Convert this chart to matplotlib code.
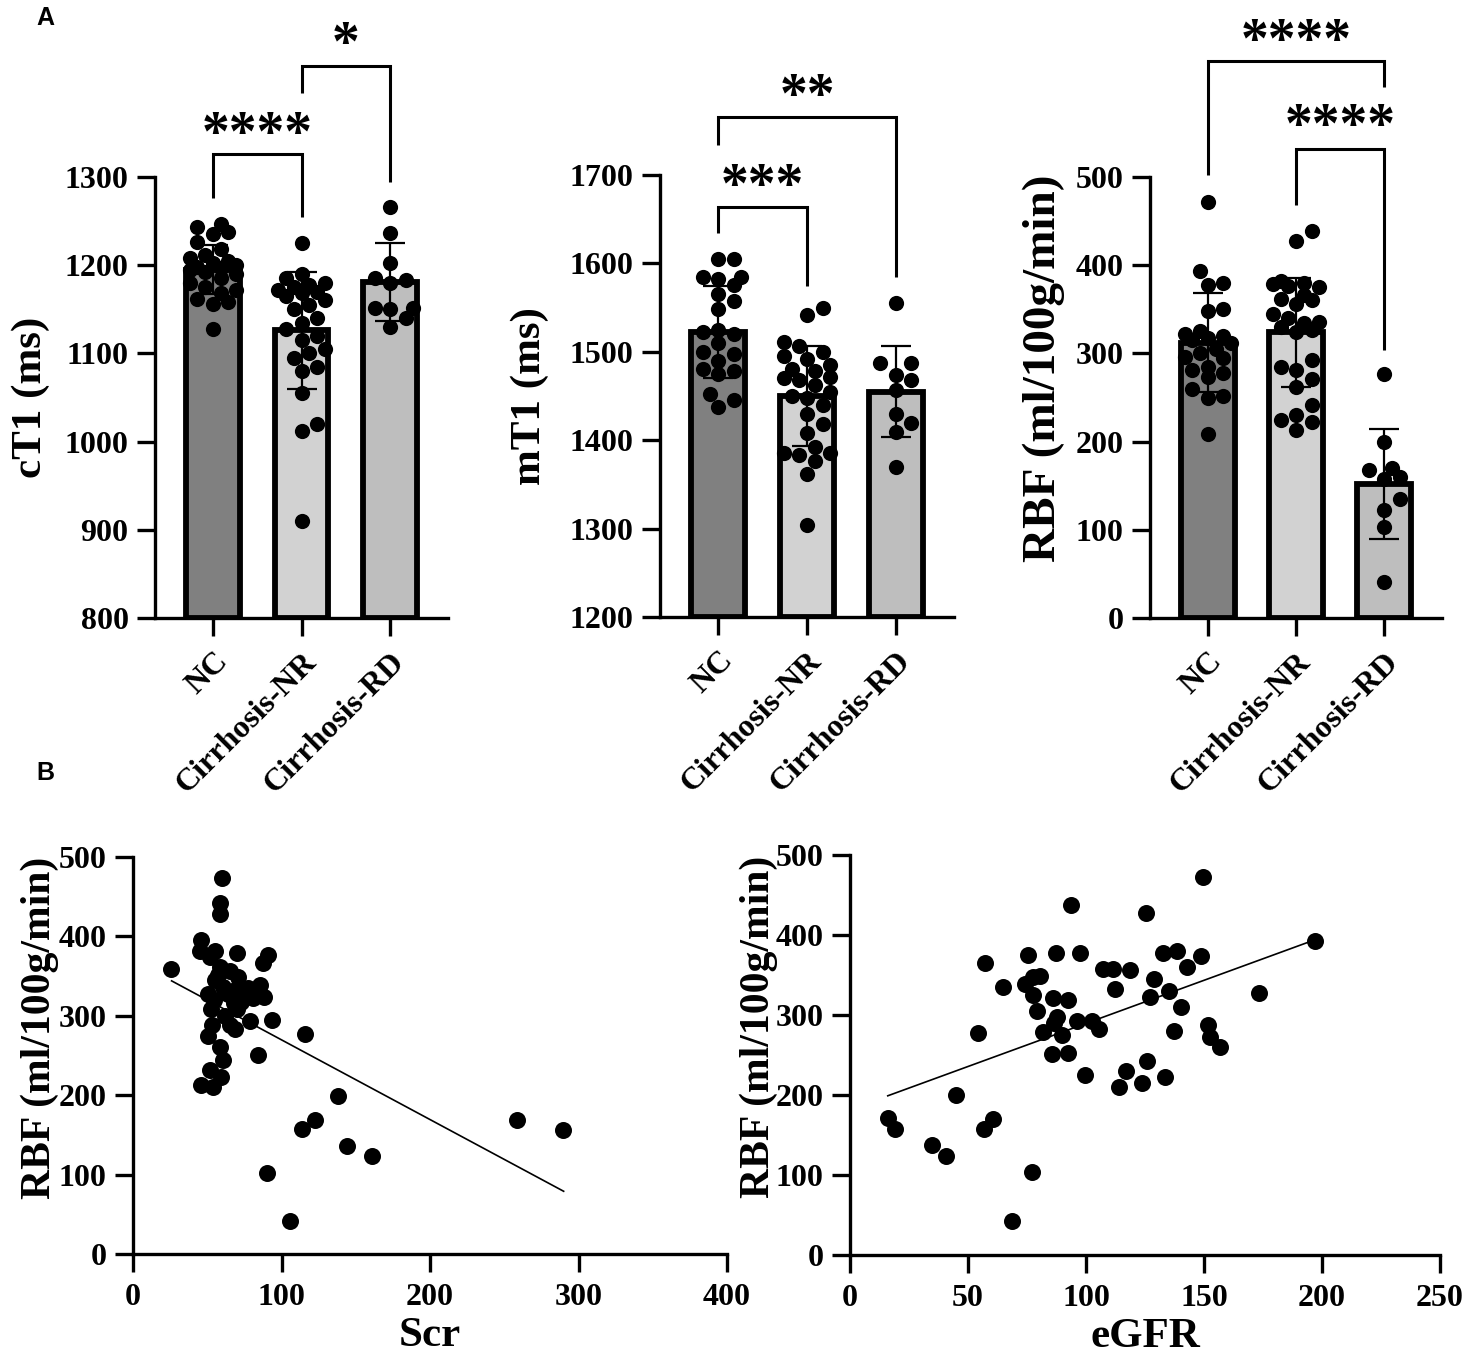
import matplotlib
matplotlib.use("Agg")
import matplotlib.pyplot as plt
import numpy as np

SERIF = ["Liberation Serif", "DejaVu Serif"]
plt.rcParams["font.family"] = SERIF
plt.rcParams["font.weight"] = "bold"

# ---------------- data ----------------
groups = ["NC", "Cirrhosis-NR", "Cirrhosis-RD"]
bar_colors = ["#808080", "#d2d2d2", "#bebebe"]

ct1_nc = [1247, 1243, 1238, 1235, 1226, 1218, 1212, 1208, 1205, 1203, 1200, 1198, 1197,
          1195, 1192, 1190, 1185, 1180, 1175, 1172, 1168, 1162, 1158, 1156, 1128]
ct1_nr = [1225, 1190, 1185, 1180, 1178, 1175, 1172, 1170, 1168, 1165, 1160, 1155, 1150, 1140,
          1135, 1128, 1120, 1115, 1105, 1100, 1095, 1085, 1080, 1055, 1020, 1012, 910]
ct1_rd = [1266, 1237, 1203, 1185, 1183, 1180, 1152, 1150, 1152, 1140, 1130]
ct1_mean = [1195, 1126, 1181]
ct1_sd = [28, 66, 44]

mt1_nc = [1605, 1605, 1585, 1585, 1582, 1575, 1565, 1558, 1548, 1525, 1522, 1520, 1510,
          1500, 1497, 1490, 1480, 1478, 1475, 1452, 1445, 1437]
mt1_nr = [1549, 1542, 1511, 1507, 1500, 1495, 1492, 1485, 1480, 1478, 1472, 1470, 1468, 1462,
          1455, 1450, 1448, 1440, 1430, 1418, 1408, 1392, 1386, 1385, 1383, 1377, 1362, 1304]
mt1_rd = [1555, 1487, 1487, 1474, 1468, 1457, 1430, 1419, 1409, 1370]
mt1_mean = [1522, 1450, 1455]
mt1_sd = [52, 56, 51]

rbf_nc = [472, 393, 380, 378, 350, 348, 325, 322, 320, 318, 315, 312, 305, 300, 296, 295,
          285, 281, 278, 273, 260, 252, 250, 209]
rbf_nr = [439, 428, 382, 380, 379, 376, 375, 366, 362, 360, 356, 345, 340, 336, 335, 330,
          326, 324, 292, 285, 281, 271, 262, 241, 230, 224, 222, 213]
rbf_rd = [277, 200, 170, 168, 160, 158, 135, 122, 103, 41]
rbf_mean = [312, 324, 152]
rbf_sd = [56, 62, 62]

ct1_yticks = [800, 900, 1000, 1100, 1200, 1300]
mt1_yticks = [1200, 1300, 1400, 1500, 1600, 1700]
rbf_yticks = [0, 100, 200, 300, 400, 500]

# significance brackets: (group i, group j, bracket y, leg-i bottom, leg-j bottom, label, label y)
ct1_sig = [(0, 1, 1326, 1276, 1255, "****", 1359),
           (1, 2, 1426, 1395, 1294, "*", 1461)]
mt1_sig = [(0, 1, 1664, 1634, 1574, "***", 1698),
           (0, 2, 1766, 1734, 1585, "**", 1800)]
rbf_sig = [(0, 2, 632, 502, 602, "****", 665),
           (1, 2, 532, 468, 304, "****", 568)]

# correlation: Scr vs RBF
scr_x = [59.7, 58.6, 58.6, 45.8, 45.0, 55.2, 69.8, 51.6, 91.1, 87.3, 25.6, 58.6, 65.3, 71.0,
         55.2, 85.5, 77.6, 60.8, 68.6, 50.3, 88.2, 80.8, 54.6, 67.9, 52.5, 69.8, 93.4, 78.5,
         65.1, 53.2, 69.0, 50.3, 115.8, 58.6, 84.4, 60.8, 51.6, 59.5, 46.0, 53.9, 138.3,
         122.6, 113.6, 143.9, 161.2, 90.0, 105.7, 258.3, 289.4, 62.0, 73.0, 64.0, 57.0]
scr_y = [474, 442, 428, 395, 381, 382, 379, 374, 377, 366, 359, 361, 356, 349,
         345, 339, 335, 336, 332, 328, 324, 322, 320, 316, 309, 308, 295, 294,
         288, 288, 284, 274, 277, 261, 251, 244, 232, 223, 213, 210, 199,
         169, 157, 136, 123, 102, 41, 169, 156, 300, 318, 327, 352]
scr_fit_x = [26, 290]
scr_fit_y = [344, 79]

# correlation: eGFR vs RBF
egfr_x = [149.4, 93.6, 125.4, 75.3, 87.3, 97.5, 132.8, 138.7, 148.6, 57.2, 142.7, 107.3, 111.3,
          118.6, 80.5, 77.7, 128.8, 74.2, 65.0, 112.3, 135.2, 77.7, 85.9, 92.2, 127.1, 173.4,
          79.3, 140.3, 87.6, 96.0, 102.7, 105.6, 86.4, 89.7, 81.6, 54.1, 137.4, 151.8, 152.5,
          156.8, 85.6, 92.4, 125.7, 116.9, 99.6, 133.5, 114.1, 123.6, 44.9, 16.2, 19.1, 60.5,
          56.9, 34.6, 40.7, 77.0, 68.5, 197.0]
egfr_y = [472, 438, 427, 375, 377, 377, 378, 380, 374, 365, 360, 357, 357,
          356, 349, 348, 345, 339, 335, 333, 330, 325, 321, 319, 322, 327,
          305, 310, 298, 292, 293, 283, 290, 275, 279, 277, 280, 288, 273,
          260, 251, 252, 243, 230, 225, 223, 210, 215, 200, 171, 157, 170,
          158, 138, 124, 104, 43, 392]
egfr_fit_x = [16, 197]
egfr_fit_y = [199, 394]

scr_xticks = [0, 100, 200, 300, 400]
egfr_xticks = [0, 50, 100, 150, 200, 250]
scatter_yticks = [0, 100, 200, 300, 400, 500]

# ---------------- figure ----------------
W, H = 1476, 1366
fig = plt.figure(figsize=(W / 100, H / 100), dpi=100)


def ax_px(l, t, r, b):
    return fig.add_axes([l / W, 1 - b / H, (r - l) / W, (b - t) / H])


SPINE_LW = 2.4
TICK_FS = 23


def style(ax):
    for s in ["top", "right"]:
        ax.spines[s].set_visible(False)
    for s in ["left", "bottom"]:
        ax.spines[s].set_linewidth(SPINE_LW)
    ax.tick_params(direction="out", length=13, width=SPINE_LW, labelsize=TICK_FS, pad=6)
    for lab in ax.get_xticklabels() + ax.get_yticklabels():
        lab.set_fontweight("bold")
        lab.set_family(SERIF)


def swarm(ax, xc, vals, diam=15.5, maxw=27):
    tr = ax.transData
    p0 = tr.transform((0, 0))
    px_per_x = tr.transform((1, 0))[0] - p0[0]
    ys = np.array([tr.transform((0, v))[1] for v in vals])
    order = np.argsort(ys)
    step = diam * 0.5
    cands = [0.0]
    k = 1
    while k * step <= maxw:
        cands += [k * step, -k * step]
        k += 1
    placed = []
    offs = np.zeros(len(vals))
    for i in order:
        y = ys[i]
        best, bestd, bestc = None, -1, 0.0
        for c in cands:
            if placed:
                d = min(np.hypot(c - px, y - py) for px, py in placed)
            else:
                d = 1e9
            if d >= diam * 0.92:
                best = c
                break
            if d > bestd:
                bestd, bestc = d, c
        if best is None:
            best = bestc
        placed.append((best, y))
        offs[i] = best
    return xc + offs / px_per_x


def bar_panel(rect, point_sets, means, sds, yticks, ylabel, sig, ylab_x, ylab_y, ylab_fs):
    ax = ax_px(*rect)
    x = np.arange(len(groups))
    ax.set_xlim(-0.655, 2.655)
    ax.set_ylim(yticks[0], yticks[-1])
    base = yticks[0]
    ax.bar(x, np.array(means) - base, bottom=base, width=0.61, color=bar_colors,
           edgecolor="black", linewidth=4.2, zorder=2)
    ax.errorbar(x, means, yerr=sds, fmt="none", ecolor="black", elinewidth=1.6,
                capsize=10.5, capthick=1.6, zorder=3)
    for xi, vals in zip(x, point_sets):
        xs = swarm(ax, xi, vals)
        ax.scatter(xs, vals, s=120, color="black", zorder=4, linewidths=0)
    ax.set_yticks(yticks)
    ax.set_xticks(x)
    ax.set_xticklabels(groups, rotation=45, ha="right", rotation_mode="anchor")
    style(ax)
    ax.tick_params(axis="x", pad=8)
    ax.set_ylabel(ylabel, fontsize=ylab_fs, fontweight="bold", family=SERIF)
    ax.yaxis.set_label_coords(ylab_x, ylab_y)
    for (i, j, yb, yi, yj, lab, ty) in sig:
        ax.plot([i, i, j, j], [yi, yb, yb, yj], color="black", lw=2.2,
                clip_on=False, solid_capstyle="butt", solid_joinstyle="miter")
        ax.annotate(lab, xy=((i + j) / 2, ty), xytext=(0, -8), textcoords="offset points",
                    ha="center", va="center", fontsize=40, fontweight="bold",
                    family=SERIF, annotation_clip=False)
    return ax


bar_panel((155, 177, 448, 618), [ct1_nc, ct1_nr, ct1_rd], ct1_mean, ct1_sd,
          ct1_yticks, "cT1 (ms)", ct1_sig, -0.36, 0.5, 31)
bar_panel((660, 175, 954, 617), [mt1_nc, mt1_nr, mt1_rd], mt1_mean, mt1_sd,
          mt1_yticks, "mT1 (ms)", mt1_sig, -0.377, 0.5, 31)
bar_panel((1150, 177, 1442, 618), [rbf_nc, rbf_nr, rbf_rd], rbf_mean, rbf_sd,
          rbf_yticks, "RBF (ml/100g/min)", rbf_sig, -0.291, 0.567, 34)


def scatter_panel(rect, xs, ys, fx, fy, xticks, xlabel, lab_x):
    ax = ax_px(*rect)
    ax.set_xlim(xticks[0], xticks[-1])
    ax.set_ylim(scatter_yticks[0], scatter_yticks[-1])
    ax.scatter(xs, ys, s=150, color="black", linewidths=0, zorder=3, clip_on=False)
    ax.plot(fx, fy, color="black", lw=1.2, zorder=2)
    ax.set_xticks(xticks)
    ax.set_yticks(scatter_yticks)
    style(ax)
    ax.tick_params(axis="x", pad=8)
    ax.set_xlabel(xlabel, fontsize=31, fontweight="bold", family=SERIF)
    ax.xaxis.set_label_coords(0.5, -0.158)
    ax.set_ylabel("RBF (ml/100g/min)", fontsize=30, fontweight="bold", family=SERIF)
    ax.yaxis.set_label_coords(lab_x, 0.57)
    return ax


scatter_panel((133, 857, 727, 1254), scr_x, scr_y, scr_fit_x, scr_fit_y,
              scr_xticks, "Scr", -0.125)
scatter_panel((850, 855, 1440, 1255), egfr_x, egfr_y, egfr_fit_x, egfr_fit_y,
              egfr_xticks, "eGFR", -0.122)

SANS = ["Liberation Sans", "DejaVu Sans"]
fig.text(36 / W, 1 - 18 / H, "A", fontsize=18, fontweight="bold", family=SANS, va="center")
fig.text(36 / W, 1 - 773 / H, "B", fontsize=18, fontweight="bold", family=SANS, va="center")

fig.savefig("out.png", dpi=100, facecolor="white")
